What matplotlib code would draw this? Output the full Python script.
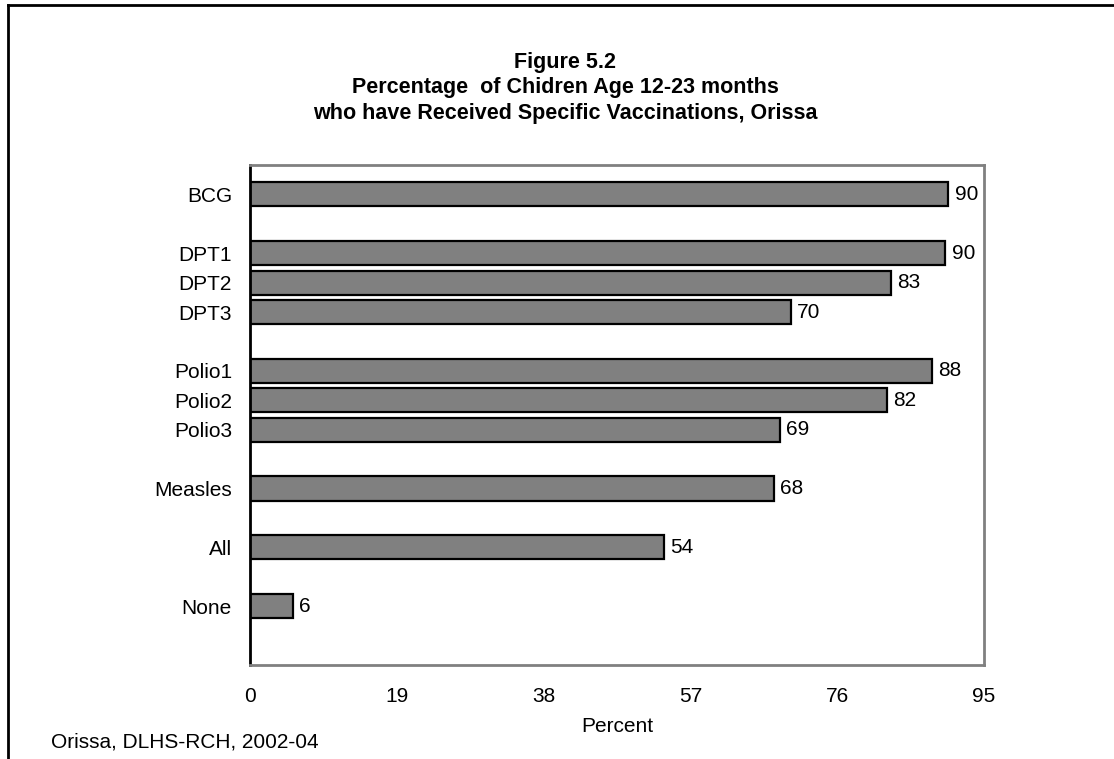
import matplotlib.pyplot as plt

plt.rcParams['font.family'] = ['Liberation Sans', 'DejaVu Sans']

categories = ['BCG', 'DPT1', 'DPT2', 'DPT3', 'Polio1', 'Polio2', 'Polio3',
              'Measles', 'All', 'None']
values = [90.4, 90.0, 83.0, 70.0, 88.3, 82.4, 68.6, 67.8, 53.6, 5.6]
labels = ['90', '90', '83', '70', '88', '82', '69', '68', '54', '6']
slots = [1, 3, 4, 5, 7, 8, 9, 11, 13, 15]
xticks = [0, 19, 38, 57, 76, 95]

W, H = 1114, 759
fig = plt.figure(figsize=(W / 100, H / 100), dpi=100)

# outer frame (left and top only visible)
fig.add_artist(plt.Line2D([8 / W, 8 / W], [0, 1 - 5 / H],
                          transform=fig.transFigure, color='black', lw=2))
fig.add_artist(plt.Line2D([8 / W, 1], [1 - 5 / H, 1 - 5 / H],
                          transform=fig.transFigure, color='black', lw=2))

ax = fig.add_axes([250 / W, 1 - 665 / H, 734 / W, 500 / H])
ax.barh(slots, values, height=0.82, color='#808080', edgecolor='black', linewidth=1.6)
for s, v, lab in zip(slots, values, labels):
    ax.text(v + 0.8, s, lab, va='center', ha='left', fontsize=15)

ax.set_xlim(0, 95)
ax.set_ylim(17, 0)
ax.set_yticks(slots)
ax.set_yticklabels(categories, fontsize=15)
ax.set_xticks(xticks)
ax.set_xticklabels([str(t) for t in xticks], fontsize=15)
ax.tick_params(axis='both', length=0)
ax.tick_params(axis='y', pad=13)
ax.tick_params(axis='x', pad=16)

for side in ['top', 'right', 'bottom']:
    ax.spines[side].set_color('#808080')
    ax.spines[side].set_linewidth(2)
ax.spines['left'].set_color('black')
ax.spines['left'].set_linewidth(2)

fig.text(565 / W, 1 - 88 / H,
         'Figure 5.2\nPercentage  of Chidren Age 12-23 months\n'
         'who have Received Specific Vaccinations, Orissa',
         ha='center', va='center', fontsize=15.5, fontweight='bold', linespacing=1.3)
fig.text(617 / W, 1 - 727 / H, 'Percent', ha='center', va='center', fontsize=15)
fig.text(51 / W, 1 - 742 / H, 'Orissa, DLHS-RCH, 2002-04', ha='left', va='center',
         fontsize=15)

fig.savefig('out.png', dpi=100)
